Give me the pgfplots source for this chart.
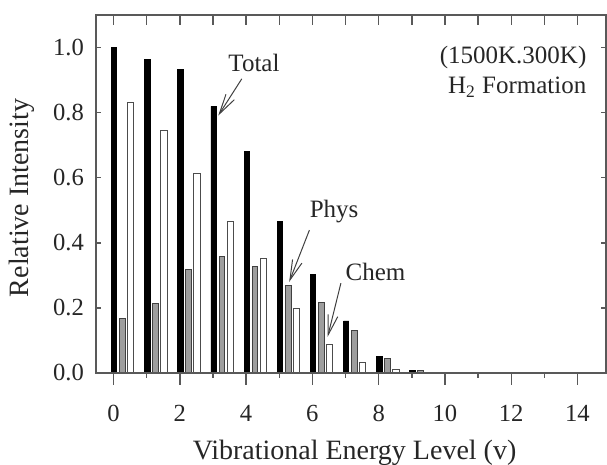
\documentclass[border=0pt]{standalone}
\usepackage{pgfplots}
\pgfplotsset{compat=1.18}
\usepackage{pgfplotstable}
\usepackage{fontspec}
\setmainfont{Liberation Serif}
\usetikzlibrary{arrows.meta}

\pgfplotstableread{
v total phys chem
0 1.000 0.168 0.832
1 0.963 0.215 0.745
2 0.932 0.318 0.614
3 0.819 0.357 0.467
4 0.680 0.328 0.353
5 0.466 0.268 0.198
6 0.304 0.216 0.089
7 0.160 0.132 0.032
8 0.052 0.045 0.011
9 0.009 0.009 0.002
}\vdata

\pgfplotsset{
  base/.style={
    scale only axis, width=255pt, height=179pt,
    xmin=-0.53, xmax=14.86, ymin=0, ymax=1.1,
    axis line style={draw=black!65, line width=0.7pt},
    every tick/.style={draw=black!65, line width=0.7pt},
    /pgf/number format/assume math mode=true,
    tick label style={font=\fontsize{12.3}{14}\selectfont, text=black!85},
  },
}
\tikzset{
  ann/.style={font=\fontsize{12.5}{14}\selectfont, inner sep=0pt, text=black!85},
  arr/.style={draw=black!75, line width=0.5pt, -{Straight Barb[length=10pt,width=5pt]}},
}

\begin{document}
\begin{tikzpicture}
\begin{axis}[base,
  xtick={0,2,...,14}, minor xtick={1,3,...,13},
  xtick pos=left, tick align=outside,
  major tick length=6pt, minor tick length=2.5pt,
  ytick=\empty,
  xticklabel style={anchor=base, yshift=-18.3pt},
  xlabel={Vibrational Energy Level (v)},
  ylabel={Relative Intensity},
  label style={font=\fontsize{14}{16}\selectfont, text=black!85},
  xlabel style={at={(axis description cs:0.507,0)}, anchor=base, yshift=-43.5pt},
  ylabel style={at={(axis description cs:-0.145,0.489)}, anchor=center},
]
\addplot[ybar, bar width=0.16, bar shift=0pt, fill=black, draw=black, line width=0.4pt]
  table[x expr=\thisrow{v}+0.02, y=total]{\vdata};
\addplot[ybar, bar width=0.17, bar shift=0pt, fill=black!38, draw=black!75, line width=0.5pt]
  table[x expr=\thisrow{v}+0.27, y=phys]{\vdata};
\addplot[ybar, bar width=0.19, bar shift=0pt, fill=white, draw=black!70, line width=0.5pt]
  table[x expr=\thisrow{v}+0.52, y=chem]{\vdata};

\node[ann, anchor=base west] at (axis cs:3.455,0.926) {Total};
\draw[arr] (axis cs:3.87,0.904) -- (axis cs:3.16,0.791);
\node[ann, anchor=base west] at (axis cs:5.91,0.478) {Phys};
\draw[arr] (axis cs:5.91,0.439) -- (axis cs:5.30,0.280);
\node[ann, anchor=base west] at (axis cs:6.99,0.285) {Chem};
\draw[arr] (axis cs:6.86,0.276) -- (axis cs:6.46,0.111);
\node[ann, anchor=base east] at (axis cs:14.28,0.951) {(1500K.300K)};
\node[ann, anchor=base east] at (axis cs:14.28,0.859) {H\textsubscript{2} Formation};
\end{axis}

\begin{axis}[base,
  xtick=\empty,
  ytick={0,0.2,0.4,0.6,0.8,1.0},
  ytick pos=both, yticklabel pos=left,
  tick align=inside, major tick length=2.5pt,
  yticklabel style={/pgf/number format/.cd, fixed, fixed zerofill, precision=1, /tikz/.cd, xshift=-2.5pt},
]
\end{axis}

\begin{axis}[base,
  ytick=\empty,
  xtick={0,1,...,14}, xtick pos=right, xticklabels={},
  tick align=inside, major tick length=5pt,
]
\end{axis}

\pgfresetboundingbox
\useasboundingbox (-48pt,-46pt) rectangle (255.5pt,186.5pt);
\end{tikzpicture}
\end{document}
